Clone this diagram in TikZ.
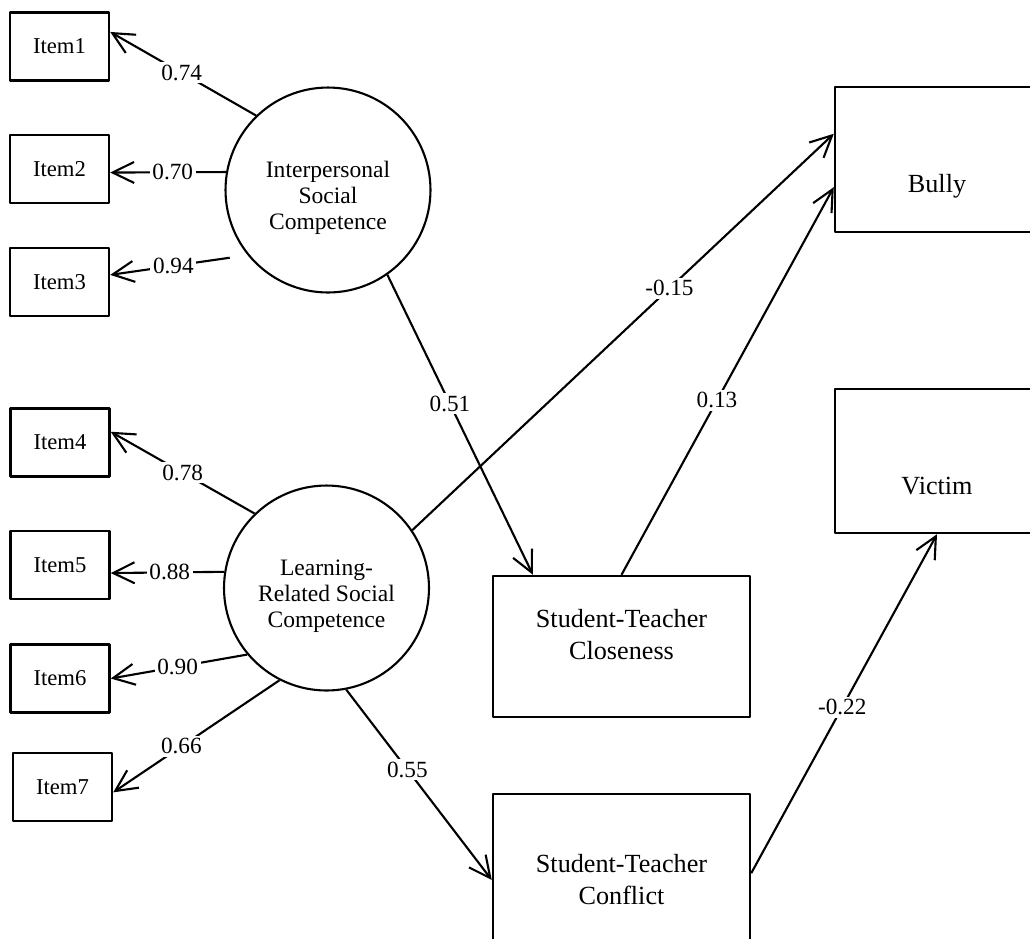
\documentclass[tikz,border=0pt]{standalone}
\usepackage{fontspec}
\setmainfont{Liberation Serif}
\usetikzlibrary{arrows.meta,positioning}
\tikzset{
  item/.style={draw,line width=1.4pt,minimum width=1.98cm,minimum height=1.36cm,inner sep=0pt,font=\fontsize{12.9}{15}\selectfont},
  latent/.style={draw,circle,line width=1.2pt,minimum size=4.1cm,inner sep=0pt},
  lattext/.style={align=center,yshift=-0.16cm,font=\fontsize{13.4}{14.8}\selectfont},
  outbox/.style={draw,line width=1.4pt,inner sep=0pt},
  boxtext/.style={align=center,font=\fontsize{14.9}{18.2}\selectfont},
  lbl/.style={fill=white,inner sep=1.5pt,font=\fontsize{13.2}{15}\selectfont},
}
\begin{document}
\begin{tikzpicture}[x=0.02cm,y=-0.02cm,line width=1.2pt,line join=round,>={Straight Barb[length=4.3mm,width=4.2mm]}]
  \useasboundingbox (0,0) rectangle (1030,938);
  \foreach \i/\x/\y in {1/59.5/46.5,2/59.5/169,3/59.5/282,4/60/442.5,5/60/565,6/60/678.5,7/62.5/787}
    \node[item] (item\i) at (\x,\y) {Item\i};

  \node[latent,label={[lattext]center:Interpersonal\\Social\\Competence}] (isc) at (328,190) {};
  \node[latent,label={[lattext]center:Learning-\\Related Social\\Competence}] (lrsc) at (326.5,588) {};

  \node[outbox,minimum width=4.08cm,minimum height=2.9cm,label={[boxtext,yshift=-0.53cm]center:Bully}] (bully) at (937,159.5) {};
  \node[outbox,minimum width=4.08cm,minimum height=2.88cm,label={[boxtext,yshift=-0.5cm]center:Victim}] (victim) at (937,461) {};
  \node[outbox,minimum width=5.14cm,minimum height=2.82cm,label={[boxtext,yshift=0.23cm]center:Student-Teacher\\Closeness}] (closeness) at (621.5,646.5) {};
  \node[outbox,minimum width=5.14cm,minimum height=3.44cm,label={[boxtext]center:Student-Teacher\\Conflict}] (conflict) at (621.5,880) {};

  \foreach \a/\j/\b/\v/\p in {134/1/16/0.74/0.51,170/2/356/0.70/0.46}
    \draw[->] (isc.\a) -- (item\j.\b) node[lbl,pos=\p]{\v};
  \draw[->,shorten <=0.36cm] (isc.219) -- (item3.8) node[lbl,pos=0.54]{0.94};
  \foreach \a/\j/\b/\v/\p in {134/4/12/0.78/0.5,171/5/351/0.88/0.48,220/6/0/0.90/0.51,243/7/354/0.66/0.59}
    \draw[->] (lrsc.\a) -- (item\j.\b) node[lbl,pos=\p]{\v};

  \draw[->] (isc.305) -- (closeness.141) node[lbl,pos=0.43]{0.51};
  \draw[->] (lrsc.34) -- (bully.166) node[lbl,pos=0.61]{-0.15};
  \draw[->] (closeness.north) -- (bully.195) node[lbl,pos=0.45]{0.13};
  \draw[->] (lrsc.281) -- (conflict.west) node[lbl,pos=0.42]{0.55};
  \draw[->] (conflict.3) -- (victim.south) node[lbl,pos=0.49]{-0.22};
\end{tikzpicture}
\end{document}
